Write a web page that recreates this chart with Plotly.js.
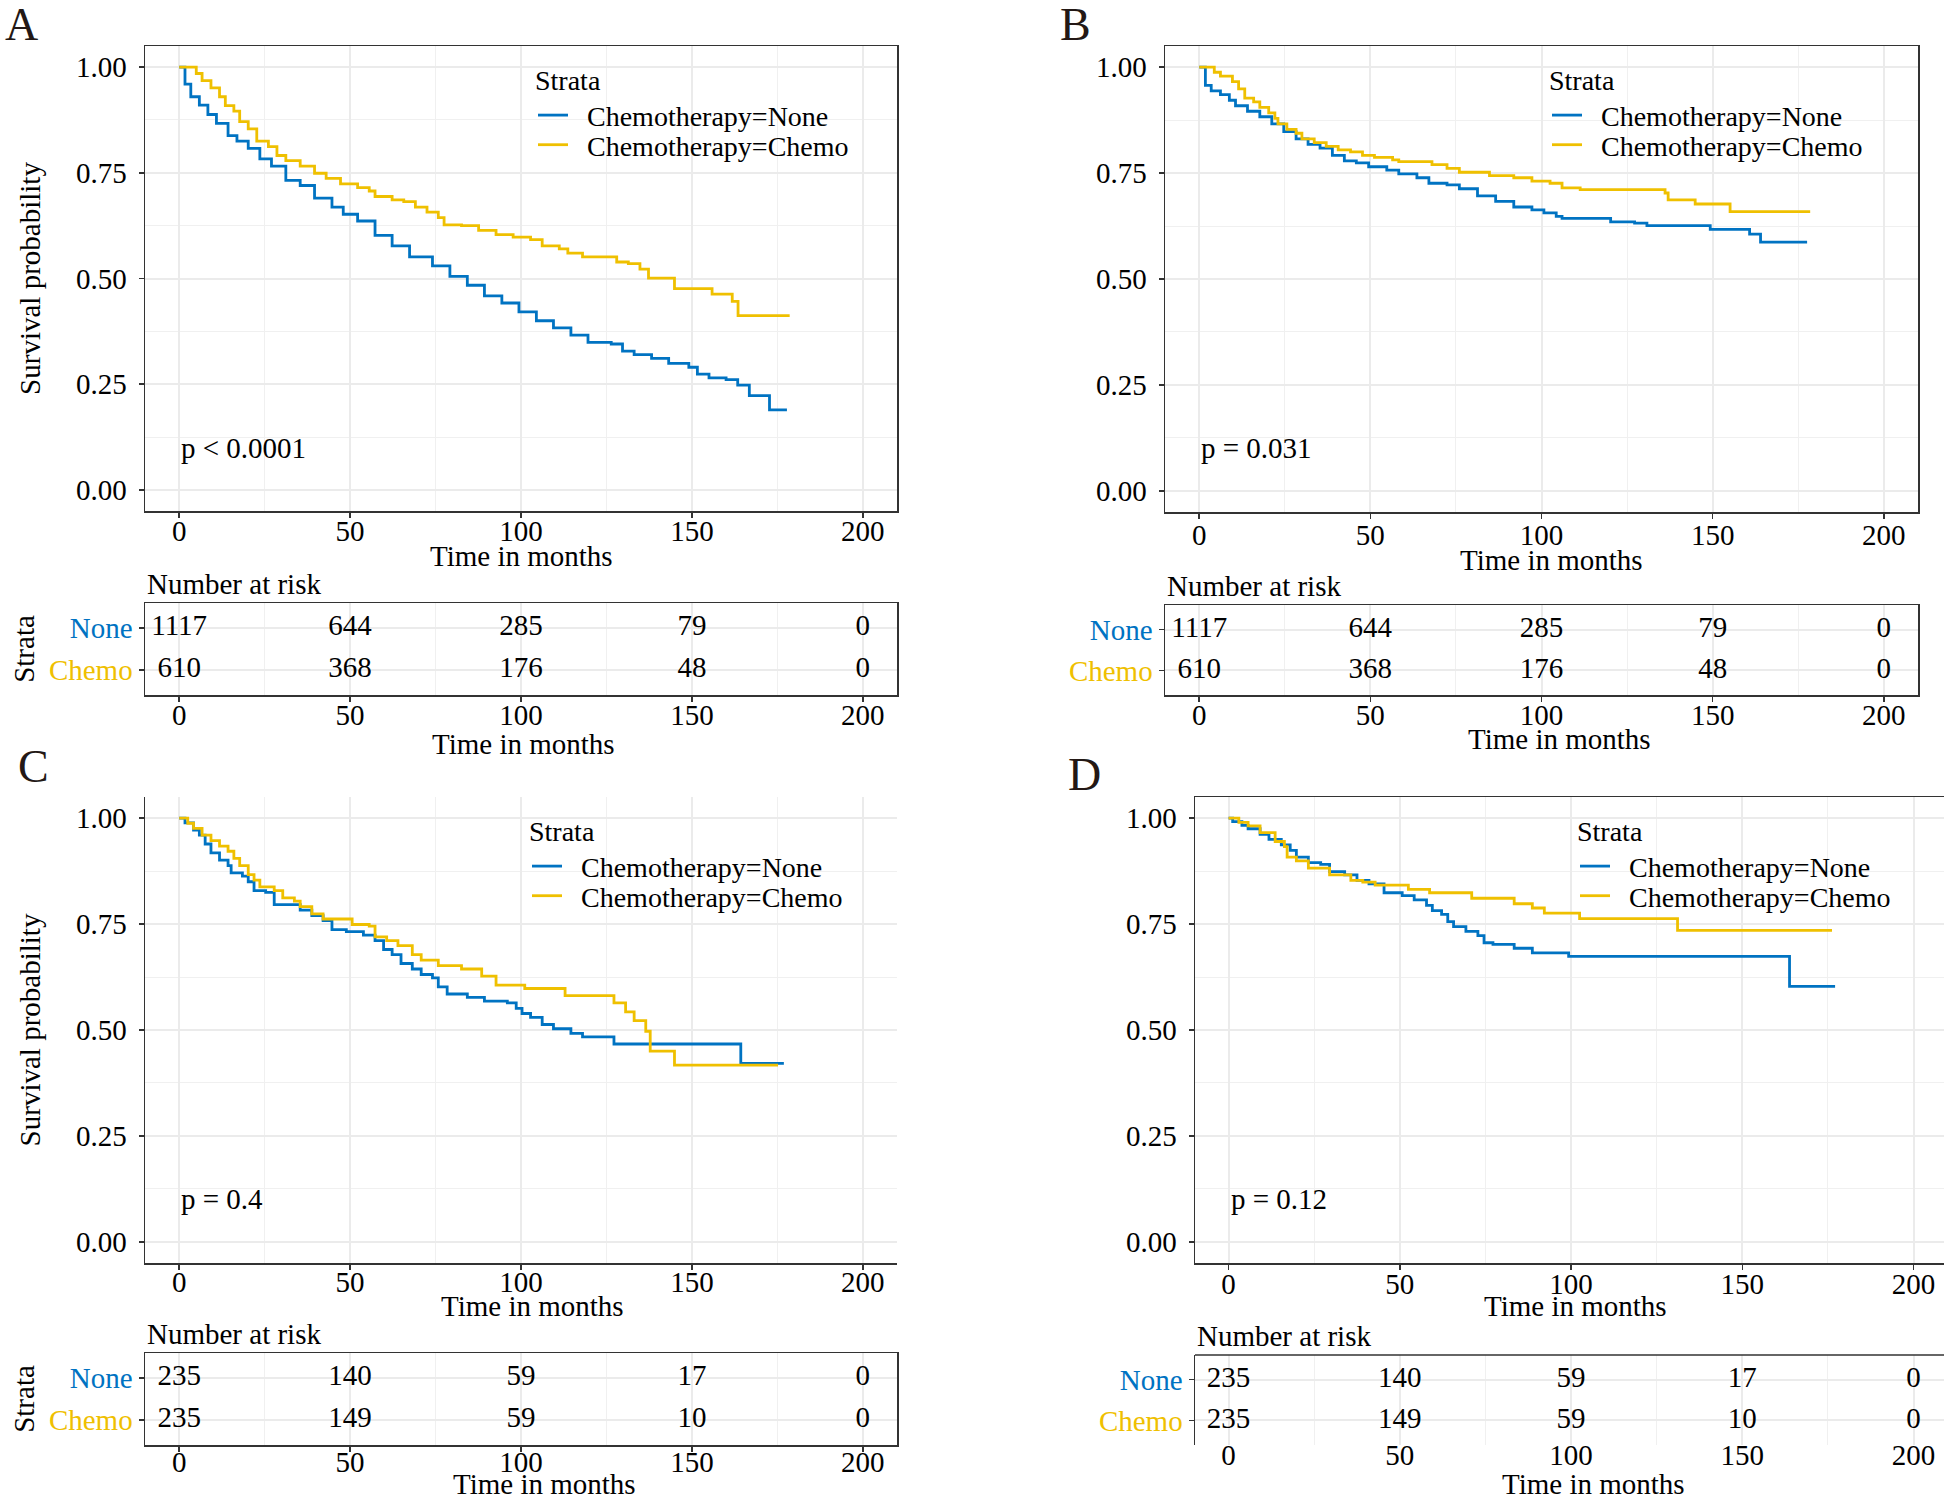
<!DOCTYPE html>
<html>
<head>
<meta charset="utf-8">
<script src="https://cdn.plot.ly/plotly-3.0.1.min.js"></script>
<style>
  body { margin: 0; background: #fff; }
  #plot { width: 1944px; height: 1501px; }
</style>
</head>
<body>
<div id="plot"></div>
<script>
// survival curves: time (months) and survival probability
var timeA_none = [0, 0.5, 1.7, 3.4, 5.9, 8.4, 10.9, 14.3, 16.9, 20.2, 23.6, 27, 31.2, 35.4, 39.6, 44.7, 48, 52.2, 57.3, 62.3, 67.4, 74.1, 79.2, 84.3, 89.3, 94.4, 99.4, 104.5, 109.5, 114.6, 119.6, 126.4, 129.7, 133.1, 138.2, 143.2, 149.1, 151.6, 155, 160, 163.4, 166.8, 172.7, 177.8];
var survA_none = [1, 1, .96, .93, .91, .888, .867, .838, .825, .808, .783, .766, .732, .72, .69, .669, .652, .636, .602, .577, .551, .53, .505, .484, .459, .442, .421, .4, .383, .366, .349, .345, .328, .32, .311, .299, .29, .274, .265, .261, .248, .223, .189, .189];
var timeA_chemo = [0, 3.4, 5, 6.7, 9.3, 11.8, 13.5, 16, 17.7, 20.2, 22.7, 26.1, 28.6, 31.2, 35.4, 39.6, 43, 47.2, 52.2, 55.6, 57.3, 62.3, 65.7, 69.1, 72.5, 75.8, 77.5, 82.6, 87.6, 92.7, 97.7, 102.8, 106.2, 111.2, 113.7, 118, 128, 131.4, 134.8, 137.3, 144.9, 155.9, 161.8, 163.5, 178.6];
var survA_chemo = [1, 1, .985, .968, .951, .93, .909, .896, .871, .854, .825, .812, .791, .779, .766, .749, .737, .724, .715, .707, .694, .686, .682, .669, .657, .644, .627, .625, .614, .604, .598, .592, .577, .57, .56, .551, .539, .535, .522, .501, .476, .463, .446, .412, .412];

var timeB_none = [0, 1.8, 3.5, 6.2, 8.8, 10.6, 14.1, 17.7, 21.2, 24.7, 28.3, 31.8, 35.3, 38.9, 42.4, 45.9, 49.5, 54.8, 58.3, 63.6, 67.1, 72.4, 76, 81.3, 86.6, 91.9, 97.2, 100.7, 104.3, 106, 120.2, 127.2, 130.8, 149.3, 160.8, 164, 177.6];
var survB_none = [1, .957, .944, .935, .922, .909, .896, .883, .866, .848, .831, .818, .809, .792, .779, .774, .765, .757, .748, .739, .726, .722, .713, .696, .683, .67, .663, .656, .648, .643, .635, .632, .626, .617, .606, .587, .587];
var timeB_chemo = [0, 4.4, 6.2, 9.7, 11.5, 13.3, 15.9, 17.7, 20.3, 22.1, 23, 25.6, 28.3, 30, 33.6, 37.1, 40.6, 44.2, 47.7, 51.2, 56.5, 58.3, 68, 72.4, 76, 84.8, 91.9, 97.2, 102.5, 106, 111.3, 136.1, 137, 144.9, 155.1, 178.5];
var survB_chemo = [1, .988, .979, .966, .949, .927, .918, .905, .892, .879, .866, .853, .844, .831, .822, .813, .805, .8, .792, .787, .781, .777, .77, .761, .752, .744, .739, .731, .726, .715, .711, .703, .687, .677, .659, .659];

var timeC_none = [0, 1.7, 4.2, 5.9, 7.6, 9.3, 11.8, 14.3, 15.2, 18.5, 20.2, 21.9, 25.3, 27.8, 35.4, 38.8, 42.1, 44.7, 48.9, 53.9, 57.3, 59.8, 62.3, 64.9, 68.2, 70.8, 74.1, 75.8, 78.4, 84.3, 89.3, 96, 98.6, 100.3, 102.8, 106.2, 109.5, 114.6, 118, 127.2, 164.3, 176.9];
var survC_none = [1, .989, .972, .96, .939, .918, .901, .888, .871, .863, .85, .829, .825, .796, .783, .77, .758, .737, .732, .724, .711, .69, .678, .657, .644, .631, .623, .602, .585, .577, .568, .564, .551, .539, .53, .513, .503, .492, .484, .467, .421, .421];
var timeC_chemo = [0, 2.5, 4.2, 6.7, 9.3, 11.8, 14.3, 16, 17.7, 20.2, 21.9, 23.6, 27.8, 30.3, 33.7, 35.4, 38.8, 42.1, 50.6, 55.6, 57.3, 60.7, 64, 68.2, 70.8, 75.8, 82.6, 88.5, 92.7, 101.1, 112.9, 127.2, 130.6, 133.1, 136.5, 137.8, 144.9, 175.2];
var survC_chemo = [1, .988, .976, .96, .947, .934, .922, .905, .888, .867, .854, .838, .829, .812, .804, .791, .774, .762, .749, .745, .72, .711, .699, .678, .665, .652, .644, .627, .606, .598, .581, .564, .543, .522, .497, .45, .417, .417];

var timeD_none = [0, 1.2, 3.9, 5.7, 9.2, 11.8, 15.4, 18, 19.8, 23.3, 26.9, 29.5, 33.9, 37.5, 41, 45.4, 50.7, 54.2, 57.8, 59.5, 62.2, 64, 65.7, 69.3, 72.8, 74.6, 77.2, 83.4, 88.7, 99.3, 163.8, 177.1];
var survD_none = [1, .992, .983, .975, .962, .95, .937, .924, .908, .895, .891, .874, .866, .853, .845, .824, .817, .807, .794, .782, .773, .756, .744, .733, .723, .706, .702, .693, .682, .674, .603, .603];
var timeD_chemo = [0, 3, 5.7, 9.2, 13.6, 16.3, 17.1, 19.8, 23.3, 29.5, 35.7, 39.2, 42.8, 52.5, 58.7, 71, 83.4, 88.7, 92.2, 102.5, 131.1, 176.2];
var survD_chemo = [1, .99, .982, .966, .945, .933, .908, .899, .882, .866, .853, .849, .842, .832, .824, .811, .798, .788, .776, .763, .735, .735];

// number at risk tables
var riskTimes = [0, 50, 100, 150, 200];
var riskA_none = [1117, 644, 285, 79, 0];
var riskA_chemo = [610, 368, 176, 48, 0];
var riskB_none = [1117, 644, 285, 79, 0];
var riskB_chemo = [610, 368, 176, 48, 0];
var riskC_none = [235, 140, 59, 17, 0];
var riskC_chemo = [235, 149, 59, 10, 0];
var riskD_none = [235, 140, 59, 17, 0];
var riskD_chemo = [235, 149, 59, 10, 0];

var strata = ['None', 'Chemo'];
var legendNames = ['Chemotherapy=None', 'Chemotherapy=Chemo'];
var pvals = ['p &lt; 0.0001', 'p = 0.031', 'p = 0.4', 'p = 0.12'];
var panelLetters = ['A', 'B', 'C', 'D'];
var xTicks = [0, 50, 100, 150, 200];
var yTicks = [0, 0.25, 0.5, 0.75, 1];

var W = 1944, H = 1501;
var FONT = 'Liberation Serif, Times New Roman, serif';
var FS = 29;
var BLUE = '#0073C2', YELLOW = '#EFC000';
var LINE = '#333333', GRID = '#EBEBEB', MINOR = '#F0F0F0';

function domX(l, r) { return [l / W, Math.min(r / W, 1)]; }
function domY(t, b) { return [1 - b / H, 1 - t / H]; }
function f(size) { return {family: FONT, size: size || FS, color: '#000'}; }

// pixel boxes of each panel (plot and risk table), legend spots, label shifts,
// and where the "Time in months" titles sit: [dx, dy below the box]
var panels = [
  {times: [timeA_none, timeA_chemo], survs: [survA_none, survA_chemo], risk: [riskA_none, riskA_chemo],
   plot: [145, 897, 46, 511], table: [145, 897, 603, 695], range: [-10, 210],
   letter: [3, 25], legend: [533, 113, 145], plotShift: -11, tableShift: -11,
   plotTitle: [0, 45], tableTitle: [2, 49],
   ytitle: true, plotMirror: true, tableBox: true},
  {times: [timeB_none, timeB_chemo], survs: [survB_none, survB_chemo], risk: [riskB_none, riskB_chemo],
   plot: [1165, 1918, 46, 512], table: [1165, 1918, 605, 695], range: [-10, 210],
   letter: [1058, 25], legend: [1547, 113, 145], plotShift: -8, tableShift: -11,
   plotTitle: [10, 48], tableTitle: [18, 44],
   ytitle: false, plotMirror: true, tableBox: true},
  {times: [timeC_none, timeC_chemo], survs: [survC_none, survC_chemo], risk: [riskC_none, riskC_chemo],
   plot: [145, 897, 797, 1263], table: [145, 897, 1353, 1445], range: [-10, 210],
   letter: [16, 766], legend: [527, 864, 896], plotShift: -12, tableShift: -14,
   plotTitle: [11, 43], tableTitle: [23, 39],
   ytitle: true, plotMirror: false, tableBox: true},
  {times: [timeD_none, timeD_chemo], survs: [survD_none, survD_chemo], risk: [riskD_none, riskD_chemo],
   plot: [1195, 1944, 797, 1263], table: [1195, 1944, 1355, 1445], range: [-9.8, 208.9],
   letter: [1066, 774], legend: [1575, 864, 896], plotShift: -10, tableShift: -10,
   plotTitle: [6, 43], tableTitle: [24, 39],
   ytitle: false, plotMirror: 'x', tableBox: false}
];

var traces = [];
var layout = {
  width: W, height: H,
  margin: {l: 0, r: 0, t: 0, b: 0},
  paper_bgcolor: '#ffffff', plot_bgcolor: '#ffffff',
  font: f(),
  showlegend: true,
  annotations: [], shapes: []
};

function baseAxis(extra) {
  var ax = {
    showgrid: true, gridcolor: GRID, gridwidth: 2, zeroline: false,
    showline: true, linecolor: LINE, linewidth: 1.5,
    ticks: 'outside', ticklen: 5, tickcolor: LINE, tickwidth: 1.5,
    tickfont: f(), fixedrange: true
  };
  for (var k in extra) ax[k] = extra[k];
  return ax;
}

function xTitle(xa, ya, pos) {
  return {
    text: 'Time in months', xref: xa + ' domain', yref: ya + ' domain', x: 0.5, y: 0,
    xanchor: 'center', yanchor: 'middle', xshift: pos[0], yshift: -pos[1],
    showarrow: false, font: f()
  };
}

panels.forEach(function(p, i) {
  var np = 2 * i + 1, nt = 2 * i + 2;
  var xp = 'x' + (np === 1 ? '' : np), yp = 'y' + (np === 1 ? '' : np);
  var xt = 'x' + nt, yt = 'y' + nt;
  var colors = [BLUE, YELLOW];
  // one legend per entry so that the rows sit where the reference has them
  var legs = ['legend' + (i === 0 ? '' : 2 * i + 1), 'legend' + (2 * i + 2)];

  // survival curves
  for (var s = 0; s < 2; s++) {
    traces.push({
      type: 'scatter', mode: 'lines', x: p.times[s], y: p.survs[s],
      line: {shape: 'hv', color: colors[s], width: 2.8},
      name: '\u00a0\u00a0' + legendNames[s], legend: legs[s], xaxis: xp, yaxis: yp, hoverinfo: 'skip'
    });
  }
  // risk table numbers
  for (var s2 = 0; s2 < 2; s2++) {
    traces.push({
      type: 'scatter', mode: 'text', x: riskTimes,
      y: riskTimes.map(function() { return strata[s2]; }),
      text: p.risk[s2].map(String), textfont: f(),
      showlegend: false, xaxis: xt, yaxis: yt, hoverinfo: 'skip', cliponaxis: false
    });
  }

  var xminor = {dtick: 25, tick0: 0, showgrid: true, gridcolor: MINOR, gridwidth: 1, ticks: ''};

  layout['xaxis' + (np === 1 ? '' : np)] = baseAxis({
    domain: domX(p.plot[0], p.plot[1]), range: p.range, anchor: yp,
    tickmode: 'array', tickvals: xTicks, minor: xminor, ticklabelstandoff: p.plotShift,
    mirror: p.plotMirror === true || p.plotMirror === 'x'
  });
  layout['yaxis' + (np === 1 ? '' : np)] = baseAxis({
    domain: domY(p.plot[2], p.plot[3]), range: [-0.05, 1.05], anchor: xp,
    tickmode: 'array', tickvals: yTicks, tickformat: '.2f', ticklabelstandoff: 6,
    minor: {dtick: 0.125, tick0: 0, showgrid: true, gridcolor: MINOR, gridwidth: 1, ticks: ''},
    mirror: p.plotMirror === true,
    title: p.ytitle ? {text: 'Survival probability', font: f(), standoff: 27} : {text: ''}
  });

  layout['xaxis' + nt] = baseAxis({
    domain: domX(p.table[0], p.table[1]), range: p.range, anchor: yt,
    tickmode: 'array', tickvals: xTicks, minor: xminor, ticklabelstandoff: p.tableShift,
    showline: p.tableBox, mirror: p.tableBox, ticks: p.tableBox ? 'outside' : ''
  });
  layout['yaxis' + nt] = baseAxis({
    domain: domY(p.table[2], p.table[3]), anchor: xt,
    type: 'category', categoryorder: 'array', categoryarray: ['Chemo', 'None'], range: [-0.6, 1.6],
    tickmode: 'array', tickvals: strata,
    ticktext: ['<span style="color:' + BLUE + '">None</span>', '<span style="color:' + YELLOW + '">Chemo</span>'],
    mirror: p.tableBox,
    title: p.ytitle ? {text: 'Strata', font: f(), standoff: 6} : {text: ''}
  });
  if (!p.tableBox) {
    layout.shapes.push({type: 'line', xref: xt + ' domain', yref: yt + ' domain', x0: 0, x1: 1, y0: 1, y1: 1,
      line: {color: LINE, width: 1.5}});
  }

  // first legend carries the "Strata" title; the second holds the Chemo row only
  layout[legs[0]] = {
    x: p.legend[0] / W, y: 1 - (p.legend[1] - 59) / H, xanchor: 'left', yanchor: 'top',
    bgcolor: 'rgba(0,0,0,0)', font: f(28), itemwidth: 30,
    title: {text: 'Strata', font: f(28)}
  };
  layout[legs[1]] = {
    x: p.legend[0] / W, y: 1 - p.legend[2] / H, xanchor: 'left', yanchor: 'middle',
    bgcolor: 'rgba(0,0,0,0)', font: f(28), itemwidth: 30
  };

  layout.annotations.push(xTitle(xp, yp, p.plotTitle));
  layout.annotations.push(xTitle(xt, yt, p.tableTitle));

  // panel letter, p-value and table title
  layout.annotations.push({
    text: panelLetters[i], xref: 'paper', yref: 'paper', x: p.letter[0] / W, y: 1 - p.letter[1] / H,
    xanchor: 'left', yanchor: 'middle', showarrow: false, font: {family: FONT, size: 46, color: '#231815'}
  });
  layout.annotations.push({
    text: pvals[i], xref: xp, yref: yp, x: 0, y: 0.1, xanchor: 'left', yanchor: 'middle',
    showarrow: false, font: f()
  });
  layout.annotations.push({
    text: 'Number at risk', xref: xt + ' domain', yref: yt + ' domain', x: 0, y: 1,
    xanchor: 'left', yanchor: 'bottom', yshift: 1, showarrow: false, font: f()
  });
});

Plotly.newPlot('plot', traces, layout, {staticPlot: true});
</script>
</body>
</html>
